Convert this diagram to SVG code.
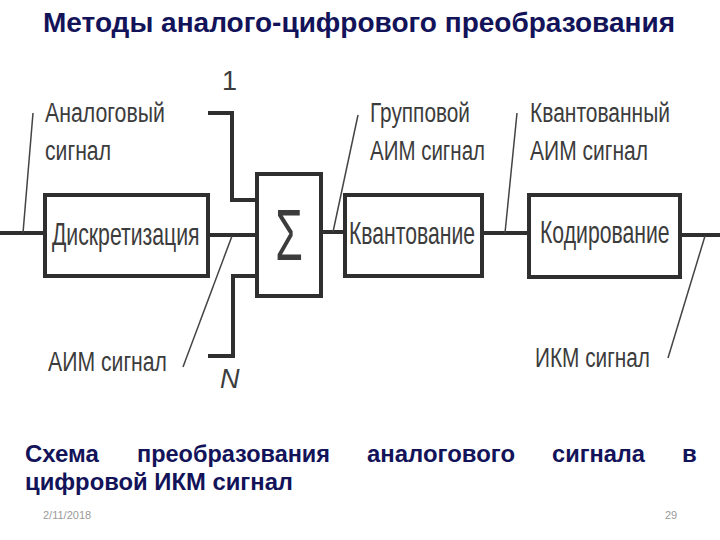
<svg xmlns="http://www.w3.org/2000/svg" width="720" height="540" viewBox="0 0 720 540">
<style>
.title{font-family:"Liberation Sans",Arial,sans-serif;font-weight:bold;fill:#13135a}
.box{fill:#fff;stroke:#2f2f2f;stroke-width:4}
.wire{fill:none;stroke:#2f2f2f;stroke-width:4}
.lead{fill:none;stroke:#444;stroke-width:1.5}
.lbl{font-family:"Liberation Sans Narrow","Liberation Sans",Arial,sans-serif;fill:#3c3c3c;font-size:27px}
.btx{font-family:"Liberation Sans",Arial,sans-serif;fill:#3c3c3c;font-size:31px}
.foot{font-family:"Liberation Sans",Arial,sans-serif;fill:#9a9a9a;font-size:11px}
</style>
<rect width="720" height="540" fill="#fff"/>
<text class="title" x="43" y="32" font-size="27.5" textLength="632" lengthAdjust="spacingAndGlyphs">Методы аналого-цифрового преобразования</text>

<g id="connectors">
  <path class="wire" d="M0,233 H45"/>
  <path class="wire" d="M208,235 H257"/>
  <path class="wire" d="M208,113 H232 V200 H257"/>
  <path class="wire" d="M208,356 H233 V276 H257"/>
  <path class="wire" d="M321,232 H345"/>
  <path class="wire" d="M482,233 H529"/>
  <path class="wire" d="M680,235 H720"/>
  <path class="lead" d="M33,113 L23,233"/>
  <path class="lead" d="M358,115 L333,232"/>
  <path class="lead" d="M517,113 L505,233"/>
  <path class="lead" d="M183,367 L232,236"/>
  <path class="lead" d="M668,358 L705,236"/>
</g>

<g id="n-discr">
  <rect class="box" x="45" y="195" width="163" height="81"/>
  <text class="btx" transform="translate(52,245) scale(0.72,1)" textLength="205" lengthAdjust="spacingAndGlyphs">Дискретизация</text>
</g>
<g id="n-sum">
  <rect class="box" x="257" y="174" width="64" height="122"/>
  <text x="0" y="0" transform="translate(289,260) scale(0.62,1)" text-anchor="middle" font-family="Liberation Sans, Arial, sans-serif" font-size="72" fill="#3c3c3c">Σ</text>
</g>
<g id="n-quant">
  <rect class="box" x="345" y="195" width="137" height="81"/>
  <text class="btx" transform="translate(349,244) scale(0.72,1)" textLength="175" lengthAdjust="spacingAndGlyphs">Квантование</text>
</g>
<g id="n-code">
  <rect class="box" x="529" y="195" width="151" height="82"/>
  <text class="btx" transform="translate(540,243) scale(0.72,1)" textLength="180" lengthAdjust="spacingAndGlyphs">Кодирование</text>
</g>

<g id="labels">
  <text class="lbl" x="45" y="122" textLength="120" lengthAdjust="spacingAndGlyphs">Аналоговый</text>
  <text class="lbl" x="45" y="160" textLength="66" lengthAdjust="spacingAndGlyphs">сигнал</text>
  <text class="lbl" x="370" y="122" textLength="100" lengthAdjust="spacingAndGlyphs">Групповой</text>
  <text class="lbl" x="370" y="160" textLength="115" lengthAdjust="spacingAndGlyphs">АИМ сигнал</text>
  <text class="lbl" x="530" y="122" textLength="140" lengthAdjust="spacingAndGlyphs">Квантованный</text>
  <text class="lbl" x="530" y="160" textLength="118" lengthAdjust="spacingAndGlyphs">АИМ сигнал</text>
  <text class="lbl" x="48" y="371" textLength="119" lengthAdjust="spacingAndGlyphs">АИМ сигнал</text>
  <text class="lbl" x="535" y="367" textLength="115" lengthAdjust="spacingAndGlyphs">ИКМ сигнал</text>
  <text class="lbl" x="222" y="90" font-size="24">1</text>
  <text class="lbl" x="220" y="388" font-size="25" font-style="italic">N</text>
</g>

<g id="caption" class="title" font-size="24">
  <text x="25" y="462">Схема</text>
  <text x="137" y="462" textLength="193" lengthAdjust="spacingAndGlyphs">преобразования</text>
  <text x="367" y="462" textLength="148" lengthAdjust="spacingAndGlyphs">аналогового</text>
  <text x="552" y="462" textLength="93" lengthAdjust="spacingAndGlyphs">сигнала</text>
  <text x="682" y="462">в</text>
  <text x="25" y="490" textLength="268" lengthAdjust="spacingAndGlyphs">цифровой ИКМ сигнал</text>
</g>
<text class="foot" x="43" y="519">2/11/2018</text>
<text class="foot" x="665" y="519">29</text>
</svg>
